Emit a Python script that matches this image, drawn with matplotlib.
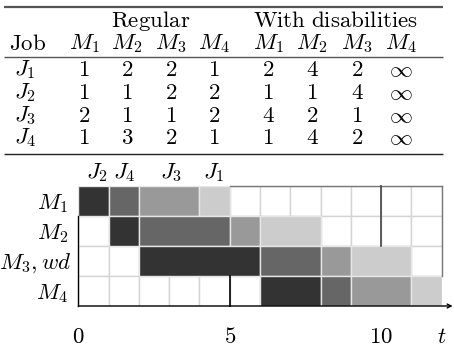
import matplotlib
matplotlib.use("Agg")
import matplotlib.pyplot as plt
from matplotlib.patches import Rectangle

plt.rcParams['mathtext.fontset'] = 'cm'
plt.rcParams['font.family'] = ['DejaVu Serif']

# ---------------- data ----------------
jobs = ['J_1', 'J_2', 'J_3', 'J_4']
machines = ['M_1', 'M_2', 'M_3', 'M_4']
regular = [[1, 2, 2, 1],
           [1, 1, 2, 2],
           [2, 1, 1, 2],
           [1, 3, 2, 1]]
disabled = [['2', '4', '2', r'\infty'],
            ['1', '1', '4', r'\infty'],
            ['4', '2', '1', r'\infty'],
            ['1', '4', '2', r'\infty']]

# Gantt schedule (sequence J2, J4, J3, J1)
sequence = ['J_2', 'J_4', 'J_3', 'J_1']
seq_colors = ['#333333', '#666666', '#999999', '#cccccc']
row_labels = ['M_1', 'M_2', 'M_3,wd', 'M_4']
starts = [[0, 1, 2, 4],
          [1, 2, 5, 6],
          [2, 6, 8, 9],
          [6, 8, 9, 11]]
durations = [[1, 1, 2, 1],
             [1, 3, 1, 2],
             [4, 2, 1, 2],
             [2, 1, 2, 1]]
seq_label_x = [0.63, 1.53, 3.05, 4.47]
xticks = [0, 5, 10]
horizon = 12

# ---------------- figure ----------------
W, H = 454, 347
fig = plt.figure(figsize=(W / 100, H / 100), dpi=100)

# table axes in pixel coordinates
tab = fig.add_axes([0, 0, 1, 1])
tab.set_xlim(0, W)
tab.set_ylim(H, 0)
tab.axis('off')

fs = 16.5
col_x = [25, 84, 127, 171, 214, 268, 312, 357, 401]
y_group = 21
y_head = 44
row_y = [70, 93, 116, 138]

tab.hlines(7, 4, 443, color='#555555', lw=1.6)
tab.hlines(57, 4, 443, color='#555555', lw=1.0)
tab.hlines(154, 4, 443, color='#222222', lw=1.0)

tab.text(151, y_group, r'$\mathrm{Regular}$', ha='center', va='center', fontsize=fs)
tab.text(336, y_group, r'$\mathrm{With\ disabilities}$', ha='center', va='center', fontsize=fs)
tab.text(col_x[0] + 3, y_head, r'$\mathrm{Job}$', ha='center', va='center', fontsize=fs)
for k, m in enumerate(machines + machines):
    tab.text(col_x[k + 1], y_head, '$' + m + '$', ha='center', va='center', fontsize=fs)
for i, j in enumerate(jobs):
    tab.text(col_x[0], row_y[i], '$' + j + '$', ha='center', va='center', fontsize=fs)
    for k in range(4):
        tab.text(col_x[k + 1], row_y[i], '$%d$' % regular[i][k], ha='center', va='center', fontsize=fs)
        tab.text(col_x[k + 5], row_y[i], '$' + disabled[i][k] + '$', ha='center', va='center', fontsize=fs)

# Gantt axes
x0, x1 = 78.3, 441.7
ytop, ybot = 185.7, 306.0
ax = fig.add_axes([x0 / W, (H - ybot) / H, (x1 - x0) / W, (ybot - ytop) / H])
ax.set_xlim(0, horizon)
ax.set_ylim(0, 4)
ax.axis('off')

nrows = len(row_labels)
for r in range(nrows):
    yb = nrows - 1 - r
    for c in range(horizon):
        ax.add_patch(Rectangle((c, yb), 1, 1, facecolor='white', edgecolor='#d4d4d4', lw=1.0))
for r in range(nrows):
    yb = nrows - 1 - r
    for k in range(len(sequence)):
        ax.add_patch(Rectangle((starts[r][k], yb), durations[r][k], 1,
                               facecolor=seq_colors[k], edgecolor='#e6e6e6', lw=1.0))
    ax.text(-0.33 if r != 2 else -0.24, yb + 0.42, '$' + row_labels[r] + '$', ha='right', va='center',
            fontsize=fs, clip_on=False)

# frame / special lines
ax.plot([5, 12], [4, 4], color='#777777', lw=1.0, clip_on=False)
ax.plot([12, 12], [1, 4], color='#777777', lw=1.0, clip_on=False)
ax.plot([0, 0], [0, 3], color='black', lw=1.0, clip_on=False)
ax.plot([10, 10], [2, 4], color='#444444', lw=1.2, clip_on=False)
ax.plot([5, 5], [0, 1], color='black', lw=1.2, clip_on=False)
ax.annotate('', xy=(12.36, 0), xytext=(0, 0),
            arrowprops=dict(arrowstyle='->', lw=1.0, color='black',
                            shrinkA=0, shrinkB=0, mutation_scale=7),
            annotation_clip=False)

for k, lab in enumerate(sequence):
    ax.text(seq_label_x[k], 4.45, '$' + lab + '$', ha='center', va='center', fontsize=fs, clip_on=False)

for t in xticks:
    ax.text(t, -1.02, '$%d$' % t, ha='center', va='center', fontsize=fs, clip_on=False)
ax.text(12, -1.02, '$t$', ha='center', va='center', fontsize=fs, clip_on=False)

fig.savefig('out.png', dpi=100)
